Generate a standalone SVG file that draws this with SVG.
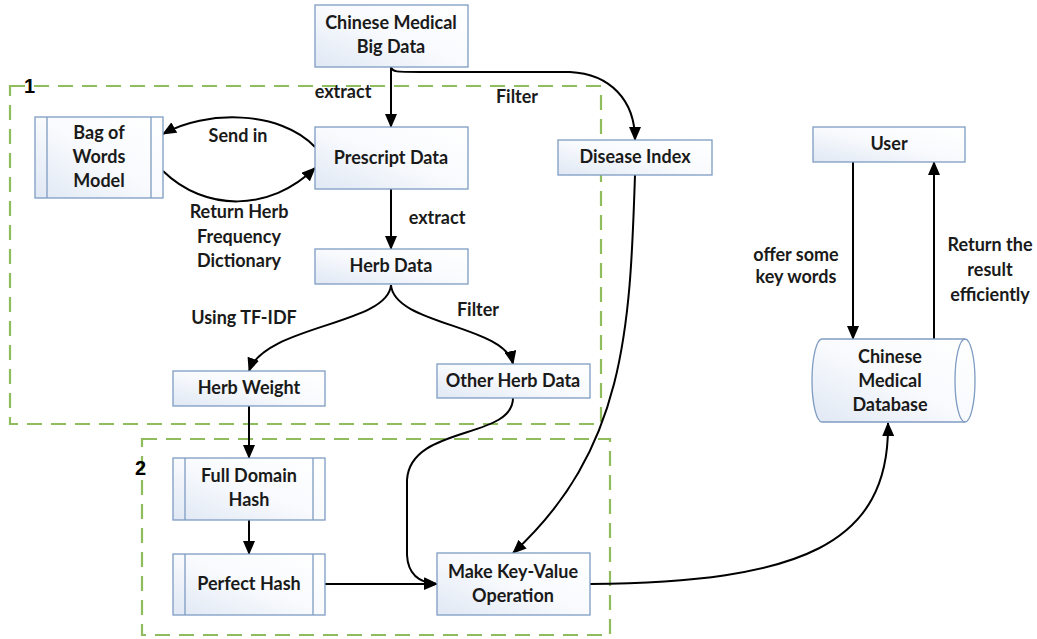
<svg xmlns="http://www.w3.org/2000/svg" width="1037" height="639" viewBox="0 0 1037 639">
<style>
.box{fill:url(#g);stroke:#7f9cc2;stroke-width:1.3}
.in{stroke:#7f9cc2;stroke-width:1.3;fill:none}
.t{font-family:Lato,"Liberation Sans",sans-serif;font-weight:bold;font-size:18px;fill:#1a1a1a;text-anchor:middle}
.c{fill:none;stroke:#000;stroke-width:2}
.a{marker-end:url(#ah)}
.grp{fill:none;stroke:#8fbc5d;stroke-width:2.2;stroke-dasharray:15 9}
.num{font-family:"Liberation Sans",sans-serif;font-weight:bold;font-size:20px;fill:#000}
</style>
<defs>
<linearGradient id="g" x1="0" y1="1" x2="1" y2="0">
<stop offset="0" stop-color="#e0e8f4"/>
<stop offset="0.5" stop-color="#f8fafd"/>
<stop offset="1" stop-color="#ffffff"/>
</linearGradient>
<marker id="ah" markerUnits="userSpaceOnUse" markerWidth="14" markerHeight="12" viewBox="0 0 14 12" refX="13" refY="6" orient="auto">
<path d="M0,0 L14,6 L0,12 Z" fill="#000"/>
</marker>
</defs>
<rect width="1037" height="639" fill="#fff"/>

<g id="group1">
<rect class="grp" x="10" y="86" width="591" height="338"/>
<text class="num" x="24" y="93">1</text>
</g>
<g id="group2">
<rect class="grp" x="142" y="439" width="468" height="196"/>
<text class="num" x="135" y="475">2</text>
</g>

<g id="connectors">
<path class="c a" d="M391,67 L391,127"/>
<path class="c a" d="M391,67 C392,72 396,72 420,72 L570,72 C610,74 635,100 635,140"/>
<path class="c a" d="M315,147 C280,110 205,110 163,134"/>
<path class="c a" d="M163,171 C205,212 270,212 315,168"/>
<path class="c a" d="M391,189 L391,249"/>
<path class="c a" d="M391,285 C388,325 265,325 249,371"/>
<path class="c a" d="M391,285 C394,325 505,325 513,364"/>
<path class="c a" d="M249,406 L249,458"/>
<path class="c a" d="M249,520 L249,554"/>
<path class="c a" d="M325,584 L437,584"/>
<path class="c a" d="M513,398 C513,440 410,425 407,480 L407,555 C408,575 420,583 437,584"/>
<path class="c a" d="M635,175 C630,330 625,450 513,553"/>
<path class="c a" d="M590,584 C800,582 890,545 888,423"/>
<path class="c a" d="M853,162 L853,339"/>
<path class="c a" d="M934,339 L934,162"/>
<text class="t" x="343" y="98">extract</text>
<text class="t" x="517" y="103">Filter</text>
<text class="t" x="238" y="142">Send in</text>
<text class="t" x="239" y="218">Return Herb</text>
<text class="t" x="239" y="243">Frequency</text>
<text class="t" x="239" y="267">Dictionary</text>
<text class="t" x="437" y="224">extract</text>
<text class="t" x="244" y="324">Using TF-IDF</text>
<text class="t" x="478" y="316">Filter</text>
<text class="t" x="796" y="261">offer some</text>
<text class="t" x="796" y="283">key words</text>
<text class="t" x="990" y="251">Return the</text>
<text class="t" x="990" y="276">result</text>
<text class="t" x="990" y="301">efficiently</text>
</g>

<g id="bigdata">
<rect class="box" x="315" y="5" width="153" height="62"/>
<text class="t" x="391" y="29">Chinese Medical</text>
<text class="t" x="391" y="53">Big Data</text>
</g>
<g id="prescript">
<rect class="box" x="315" y="127" width="153" height="62"/>
<text class="t" x="391" y="164">Prescript Data</text>
</g>
<g id="herbdata">
<rect class="box" x="315" y="249" width="153" height="35"/>
<text class="t" x="391" y="272">Herb Data</text>
</g>
<g id="disease">
<rect class="box" x="558" y="140" width="154" height="35"/>
<text class="t" x="635" y="163">Disease Index</text>
</g>
<g id="bagofwords">
<rect class="box" x="35" y="117" width="128" height="81"/>
<path class="in" d="M47,117 V198 M151,117 V198"/>
<text class="t" x="99" y="139">Bag of</text>
<text class="t" x="99" y="163">Words</text>
<text class="t" x="99" y="187">Model</text>
</g>
<g id="herbweight">
<rect class="box" x="173" y="371" width="152" height="35"/>
<text class="t" x="249" y="394">Herb Weight</text>
</g>
<g id="otherherb">
<rect class="box" x="437" y="364" width="153" height="34"/>
<text class="t" x="513" y="387">Other Herb Data</text>
</g>
<g id="fulldomain">
<rect class="box" x="173" y="458" width="152" height="62"/>
<path class="in" d="M185,458 V520 M313,458 V520"/>
<text class="t" x="249" y="482">Full Domain</text>
<text class="t" x="249" y="506">Hash</text>
</g>
<g id="perfecthash">
<rect class="box" x="173" y="554" width="152" height="61"/>
<path class="in" d="M185,554 V615 M313,554 V615"/>
<text class="t" x="249" y="590">Perfect Hash</text>
</g>
<g id="makekv">
<rect class="box" x="437" y="553" width="153" height="62"/>
<text class="t" x="513" y="578">Make Key-Value</text>
<text class="t" x="513" y="602">Operation</text>
</g>
<g id="user">
<rect class="box" x="813" y="127" width="152" height="35"/>
<text class="t" x="889" y="150">User</text>
</g>
<g id="database">
<path class="box" d="M822,339 L965,339 A10,41.5 0 0 1 965,422 L822,422 A10,41.5 0 0 1 822,339 Z"/>
<path class="in" d="M965,422 A10,41.5 0 0 1 965,339"/>
<text class="t" x="890" y="363">Chinese</text>
<text class="t" x="890" y="387">Medical</text>
<text class="t" x="890" y="411">Database</text>
</g>
</svg>
